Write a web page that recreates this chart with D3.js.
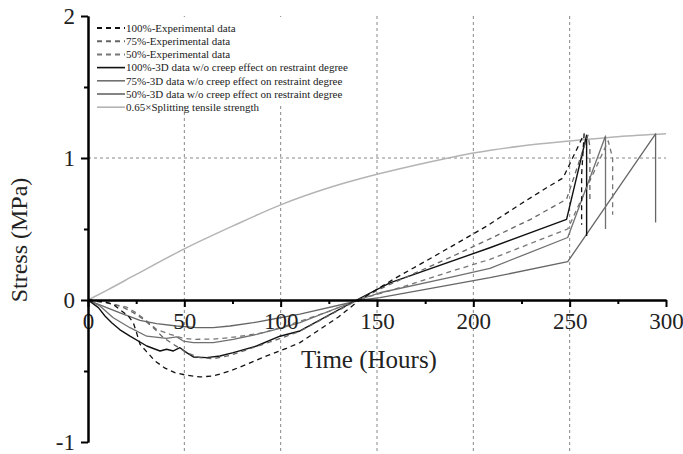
<!doctype html>
<html lang="en">
<head>
	<meta charset="UTF-8">
	<title>Stress vs time</title>
	<style>
		body { margin: 0; background: #fff; }
		svg { display: block; font-family: "Liberation Serif", "Times New Roman", serif; }
		.axis path, .axis line { stroke: #000; stroke-width: 2; }
		.axis text { font-family: "Liberation Serif", serif; font-size: 23px; fill: #222; }
		.grid { stroke: #888; stroke-width: 1; stroke-dasharray: 3,3; }
		.legend text { font-size: 11px; fill: #222; }
	</style>
</head>
<body>
	<script src="https://cdn.jsdelivr.net/npm/d3@7/dist/d3.min.js"></script>
	<script>
		// time (hours), stress (MPa) pairs
		var exp100 = [[0,0],[8,-0.01],[13,-0.03],[20.9,-0.113],[23.5,-0.16],[25.2,-0.23],[27,-0.312],[30.5,-0.365],[34.8,-0.43],[40,-0.48],[45.1,-0.512],[51.2,-0.53],[58,-0.542],[65,-0.535],[73.7,-0.5],[82.4,-0.453],[92.7,-0.394],[103,-0.34],[110,-0.3],[120,-0.21],[130,-0.12],[141,0],[158.5,0.146],[180,0.31],[206.9,0.52],[225,0.68],[238,0.79],[246.6,0.86],[257.5,1.17],[256.2,0.88],[256.2,0.53]];
		var exp75 = [[0,0],[10,-0.02],[18,-0.05],[23.5,-0.089],[28.7,-0.136],[33.9,-0.195],[39.1,-0.265],[44.3,-0.312],[51.2,-0.371],[58,-0.406],[65,-0.413],[73.7,-0.39],[87,-0.33],[100,-0.27],[110,-0.22],[125,-0.11],[140,0],[156.7,0.11],[188,0.3],[206.9,0.42],[230,0.57],[248.4,0.71],[259.5,1.16],[260.5,1.08],[260.5,0.71]];
		var exp50 = [[0,0],[10,-0.02],[20,-0.05],[25,-0.09],[30.5,-0.148],[35.6,-0.207],[42.6,-0.242],[49.5,-0.27],[54.7,-0.277],[65,-0.275],[73.7,-0.265],[82.4,-0.249],[91,-0.23],[99.6,-0.195],[110,-0.15],[125,-0.08],[140,0],[161.9,0.087],[188,0.2],[208.6,0.286],[249,0.5],[270,1.12],[272.3,1.0],[272.3,0.6]];
		var sim100 = [[0,0],[5.4,-0.054],[8.8,-0.113],[12.3,-0.16],[16.6,-0.21],[21.8,-0.255],[30.5,-0.324],[37.4,-0.359],[40.8,-0.347],[44.3,-0.359],[47.7,-0.336],[51.2,-0.371],[54.7,-0.401],[61.6,-0.406],[68.5,-0.394],[75.4,-0.371],[87.5,-0.324],[99.6,-0.255],[110,-0.218],[139.4,0],[156.7,0.12],[208.6,0.368],[248.4,0.568],[258.8,1.16],[258.8,0.45]];
		var sim75 = [[0,0],[6.2,-0.042],[13.1,-0.125],[21.8,-0.195],[30.5,-0.255],[40.8,-0.27],[46,-0.26],[49.5,-0.289],[54.7,-0.3],[65,-0.3],[75.4,-0.277],[87.5,-0.242],[99.6,-0.2],[110,-0.16],[140,0],[151.5,0.051],[188,0.16],[208.6,0.223],[249,0.44],[268.6,1.155],[268.6,0.5]];
		var sim50 = [[0,0],[9.7,-0.054],[18.3,-0.1],[27,-0.143],[35.6,-0.167],[46,-0.183],[56.4,-0.195],[65,-0.195],[73.7,-0.183],[85.8,-0.16],[99.6,-0.125],[110,-0.1],[142,0],[151.5,0.016],[188,0.106],[208.6,0.157],[249,0.27],[294.6,1.17],[294.6,0.545]];
		var strength = [[0,0],[10,0.07],[25,0.18],[50,0.36],[75,0.52],[100,0.67],[125,0.79],[150,0.885],[175,0.965],[200,1.035],[225,1.085],[250,1.12],[275,1.15],[300,1.17]];

		var xTicks = [0, 50, 100, 150, 200, 250, 300],
			xMinor = [25, 75, 125, 175, 225, 275],
			yTicks = [-1, 0, 1, 2],
			yMinor = [-0.5, 0.5, 1.5],
			xGrid = [50, 100, 150, 200, 250],
			yGrid = [1];

		var series = [
			{ name: '100%-Experimental data', data: exp100, color: '#111', width: 1.3, dash: '5,4' },
			{ name: '75%-Experimental data', data: exp75, color: '#666', width: 1.3, dash: '5,4' },
			{ name: '50%-Experimental data', data: exp50, color: '#777', width: 1.3, dash: '5,4' },
			{ name: '100%-3D data w/o creep effect on restraint degree', data: sim100, color: '#111', width: 1.4, dash: null },
			{ name: '75%-3D data w/o creep effect on restraint degree', data: sim75, color: '#707070', width: 1.3, dash: null },
			{ name: '50%-3D data w/o creep effect on restraint degree', data: sim50, color: '#666', width: 1.3, dash: null },
			{ name: '0.65\u00d7Splitting tensile strength', data: strength, color: '#b4b4b4', width: 1.5, dash: null, smooth: true }
		];

		var w = 683, h = 454;

		var svg = d3.select('body').append('svg')
			.attr('width', w)
			.attr('height', h);

		var xScale = d3.scaleLinear().domain([0, 300]).range([88, 666]),
			yScale = d3.scaleLinear().domain([-1, 2]).range([442, 16]);

		// dashed grid
		svg.selectAll('.vgrid')
			.data(xGrid)
			.enter().append('line')
			.attr('class', 'grid')
			.attr('x1', function(d) { return xScale(d); })
			.attr('x2', function(d) { return xScale(d); })
			.attr('y1', yScale(2))
			.attr('y2', h);

		svg.selectAll('.hgrid')
			.data(yGrid)
			.enter().append('line')
			.attr('class', 'grid')
			.attr('x1', xScale(0))
			.attr('x2', xScale(300))
			.attr('y1', function(d) { return yScale(d); })
			.attr('y2', function(d) { return yScale(d); });

		// curves
		var line = d3.line()
			.x(function(d) { return xScale(d[0]); })
			.y(function(d) { return yScale(d[1]); });

		var smoothLine = d3.line()
			.curve(d3.curveMonotoneX)
			.x(function(d) { return xScale(d[0]); })
			.y(function(d) { return yScale(d[1]); });

		svg.selectAll('.curve')
			.data(series.slice().reverse())
			.enter().append('path')
			.attr('class', 'curve')
			.attr('d', function(d) { return d.smooth ? smoothLine(d.data) : line(d.data); })
			.attr('fill', 'none')
			.attr('stroke', function(d) { return d.color; })
			.attr('stroke-width', function(d) { return d.width; })
			.attr('stroke-dasharray', function(d) { return d.dash; })
			.attr('stroke-linejoin', 'round');

		// axes
		var xAxis = d3.axisBottom(xScale)
			.tickValues(xTicks)
			.tickSize(7)
			.tickSizeOuter(0)
			.tickPadding(6)
			.tickFormat(function(d) { return String(d); });

		var xAxisMinor = d3.axisBottom(xScale)
			.tickValues(xMinor)
			.tickSize(4)
			.tickSizeOuter(0)
			.tickFormat('');

		svg.append('g')
			.attr('class', 'axis')
			.attr('transform', 'translate(0,' + yScale(0) + ')')
			.call(xAxis);
		svg.append('g')
			.attr('class', 'axis')
			.attr('transform', 'translate(0,' + yScale(0) + ')')
			.call(xAxisMinor);

		var yAxis = d3.axisLeft(yScale)
			.tickValues(yTicks)
			.tickSize(7)
			.tickSizeOuter(0)
			.tickPadding(6)
			.tickFormat(function(d) { return String(d); });

		var yAxisMinor = d3.axisLeft(yScale)
			.tickValues(yMinor)
			.tickSize(4)
			.tickSizeOuter(0)
			.tickFormat('');

		svg.append('g')
			.attr('class', 'axis')
			.attr('transform', 'translate(' + xScale(0) + ',0)')
			.call(yAxis);
		svg.append('g')
			.attr('class', 'axis')
			.attr('transform', 'translate(' + xScale(0) + ',0)')
			.call(yAxisMinor);

		// axis titles
		svg.append('text')
			.attr('x', 369)
			.attr('y', 368)
			.attr('text-anchor', 'middle')
			.attr('font-size', 25)
			.attr('fill', '#222')
			.text('Time (Hours)');

		svg.append('text')
			.attr('transform', 'translate(27,240) rotate(-90)')
			.attr('text-anchor', 'middle')
			.attr('font-size', 24)
			.attr('fill', '#222')
			.text('Stress (MPa)');

		// legend
		var legend = svg.append('g').attr('class', 'legend');

		legend.append('rect')
			.attr('x', 92)
			.attr('y', 17)
			.attr('width', 262)
			.attr('height', 88)
			.attr('fill', '#fff');

		var rows = legend.selectAll('.row')
			.data(series)
			.enter().append('g')
			.attr('transform', function(d, i) { return 'translate(97,' + (28 + i * 13.2) + ')'; });

		rows.append('line')
			.attr('x1', 0)
			.attr('x2', 28)
			.attr('stroke', function(d) { return d.color; })
			.attr('stroke-width', function(d) { return d.dash ? 2 : 1.6; })
			.attr('stroke-dasharray', function(d) { return d.dash; });

		rows.append('text')
			.attr('x', 29)
			.attr('dy', '0.35em')
			.text(function(d) { return d.name; });
	</script>
</body>
</html>
